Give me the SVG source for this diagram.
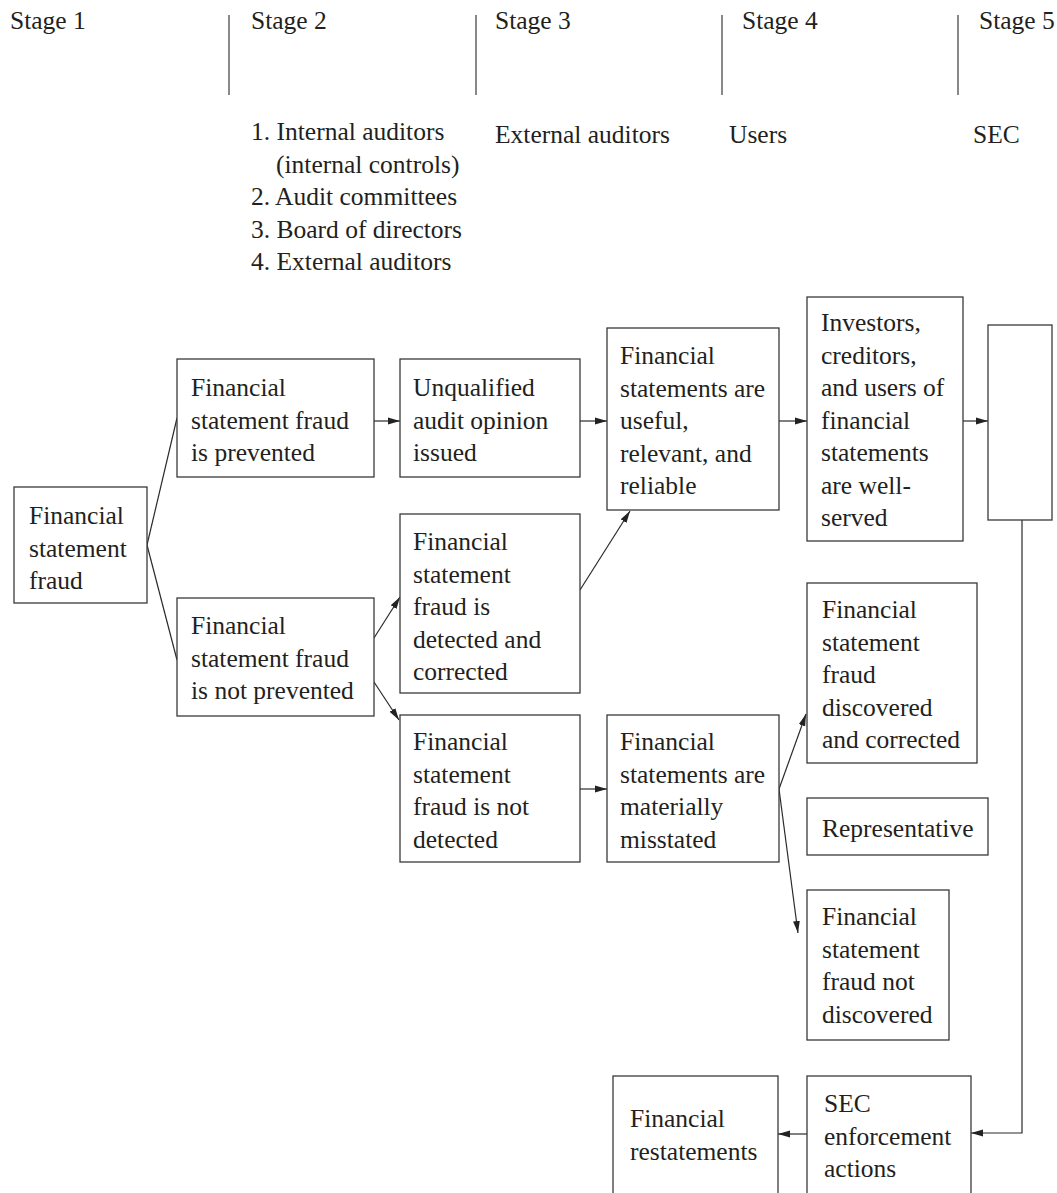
<svg xmlns="http://www.w3.org/2000/svg" width="1057" height="1193" viewBox="0 0 1057 1193" font-family="'Liberation Serif', serif" font-size="25.5">
  <defs>
    <marker id="arrow" markerUnits="userSpaceOnUse" markerWidth="12" markerHeight="8" refX="12" refY="4" orient="auto">
      <path d="M0,0.6 L12,4 L0,7.4 Z" fill="#222"/>
    </marker>
    <style>
      text { font-family: 'Liberation Serif', serif; font-size: 25.5px; fill: #231f20; }
      .box { fill: #fff; stroke: #3a3a3a; stroke-width: 1.3; }
      .divider { stroke: #3a3a3a; stroke-width: 1.2; }
      .conn { fill: none; stroke: #2a2a2a; stroke-width: 1.2; }
      .arr { marker-end: url(#arrow); }
    </style>
  </defs>
  <rect width="1057" height="1193" fill="#fff"/>

  <!-- stage header -->
  <g id="stages">
    <text x="10" y="29">Stage 1</text>
    <text x="251" y="29">Stage 2</text>
    <text x="495" y="29">Stage 3</text>
    <text x="742" y="29">Stage 4</text>
    <text x="979" y="29">Stage 5</text>
    <line class="divider" x1="229" y1="15" x2="229" y2="95"/>
    <line class="divider" x1="476" y1="15" x2="476" y2="95"/>
    <line class="divider" x1="722" y1="15" x2="722" y2="95"/>
    <line class="divider" x1="958" y1="15" x2="958" y2="95"/>
  </g>

  <!-- who acts at each stage -->
  <g id="actors">
    <text x="251" y="140">1. Internal auditors</text>
    <text x="276" y="172.5">(internal controls)</text>
    <text x="251" y="205">2. Audit committees</text>
    <text x="251" y="237.5">3. Board of directors</text>
    <text x="251" y="270">4. External auditors</text>
    <text x="495" y="143">External auditors</text>
    <text x="729" y="143">Users</text>
    <text x="973" y="143">SEC</text>
  </g>

  <!-- connectors -->
  <g id="connectors">
    <line class="conn" x1="147" y1="545" x2="177" y2="418"/>
    <line class="conn" x1="147" y1="545" x2="177" y2="660"/>
    <line class="conn arr" x1="374" y1="421" x2="400" y2="421"/>
    <line class="conn arr" x1="374" y1="638" x2="400" y2="597"/>
    <line class="conn arr" x1="374" y1="682" x2="399" y2="720"/>
    <line class="conn arr" x1="580" y1="421" x2="607" y2="421"/>
    <line class="conn arr" x1="580" y1="590" x2="630" y2="511"/>
    <line class="conn arr" x1="779" y1="421" x2="807" y2="421"/>
    <line class="conn arr" x1="963" y1="421" x2="988" y2="421"/>
    <line class="conn arr" x1="580" y1="789" x2="607" y2="789"/>
    <line class="conn arr" x1="779" y1="789" x2="806" y2="714"/>
    <line class="conn arr" x1="779" y1="789" x2="798" y2="933"/>
    <polyline class="conn arr" points="1022,520 1022,1133 971,1133"/>
    <line class="conn arr" x1="807" y1="1134" x2="778" y2="1134"/>
  </g>

  <g id="fraud">
    <rect class="box" x="14" y="487" width="133" height="116"/>
    <text x="29" y="524">Financial</text>
    <text x="29" y="556.5">statement</text>
    <text x="29" y="589">fraud</text>
  </g>

  <g id="prevented">
    <rect class="box" x="177" y="359" width="197" height="118"/>
    <text x="191" y="396">Financial</text>
    <text x="191" y="429">statement fraud</text>
    <text x="191" y="461">is prevented</text>
  </g>

  <g id="not-prevented">
    <rect class="box" x="177" y="598" width="197" height="118"/>
    <text x="191" y="634">Financial</text>
    <text x="191" y="666.5">statement fraud</text>
    <text x="191" y="699">is not prevented</text>
  </g>

  <g id="unqualified-opinion">
    <rect class="box" x="400" y="359" width="180" height="118"/>
    <text x="413" y="396">Unqualified</text>
    <text x="413" y="429">audit opinion</text>
    <text x="413" y="461">issued</text>
  </g>

  <g id="detected">
    <rect class="box" x="400" y="514" width="180" height="179"/>
    <text x="413" y="550">Financial</text>
    <text x="413" y="582.5">statement</text>
    <text x="413" y="615">fraud is</text>
    <text x="413" y="647.5">detected and</text>
    <text x="413" y="680">corrected</text>
  </g>

  <g id="not-detected">
    <rect class="box" x="400" y="715" width="180" height="147"/>
    <text x="413" y="750">Financial</text>
    <text x="413" y="782.5">statement</text>
    <text x="413" y="815">fraud is not</text>
    <text x="413" y="847.5">detected</text>
  </g>

  <g id="reliable">
    <rect class="box" x="607" y="328" width="172" height="182"/>
    <text x="620" y="364">Financial</text>
    <text x="620" y="396.5">statements are</text>
    <text x="620" y="429">useful,</text>
    <text x="620" y="461.5">relevant, and</text>
    <text x="620" y="494">reliable</text>
  </g>

  <g id="misstated">
    <rect class="box" x="607" y="715" width="172" height="147"/>
    <text x="620" y="750">Financial</text>
    <text x="620" y="782.5">statements are</text>
    <text x="620" y="815">materially</text>
    <text x="620" y="847.5">misstated</text>
  </g>

  <g id="users-served">
    <rect class="box" x="807" y="297" width="156" height="244"/>
    <text x="821" y="331">Investors,</text>
    <text x="821" y="364">creditors,</text>
    <text x="821" y="396">and users of</text>
    <text x="821" y="429">financial</text>
    <text x="821" y="461">statements</text>
    <text x="821" y="494">are well-</text>
    <text x="821" y="526">served</text>
  </g>

  <g id="sec">
    <rect class="box" x="988" y="325" width="64" height="195"/>
  </g>

  <g id="discovered">
    <rect class="box" x="807" y="583" width="170" height="180"/>
    <text x="822" y="618">Financial</text>
    <text x="822" y="650.5">statement</text>
    <text x="822" y="683">fraud</text>
    <text x="822" y="715.5">discovered</text>
    <text x="822" y="748">and corrected</text>
  </g>

  <g id="representative">
    <rect class="box" x="807" y="798" width="181" height="57"/>
    <text x="822" y="837">Representative</text>
  </g>

  <g id="not-discovered">
    <rect class="box" x="807" y="890" width="142" height="150"/>
    <text x="822" y="925">Financial</text>
    <text x="822" y="957.5">statement</text>
    <text x="822" y="990">fraud not</text>
    <text x="822" y="1022.5">discovered</text>
  </g>

  <g id="enforcement">
    <rect class="box" x="807" y="1076" width="164" height="140"/>
    <text x="824" y="1112">SEC</text>
    <text x="824" y="1144.5">enforcement</text>
    <text x="824" y="1177">actions</text>
  </g>

  <g id="restatements">
    <rect class="box" x="613" y="1076" width="165" height="140"/>
    <text x="630" y="1127">Financial</text>
    <text x="630" y="1159.5">restatements</text>
  </g>
</svg>
